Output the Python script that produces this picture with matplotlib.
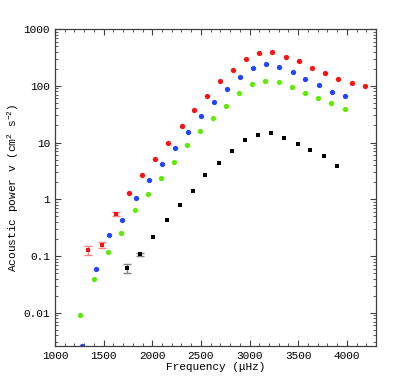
import matplotlib
matplotlib.use('Agg')
import matplotlib.pyplot as plt
from matplotlib.ticker import MultipleLocator, LogLocator, FixedLocator, FixedFormatter

plt.rcParams['font.family'] = ['Liberation Mono', 'DejaVu Sans']
plt.rcParams['mathtext.default'] = 'regular'

# red series
red_f = [1343, 1483, 1622, 1759, 1895, 2031, 2164, 2301, 2434, 2567, 2699,
         2832, 2968, 3101, 3234, 3370, 3507, 3643, 3779, 3909, 4049, 4185]
red_p = [0.128, 0.156, 0.55, 1.31, 2.64, 5.2, 9.8, 19.6, 37.6, 67, 119,
         193, 293, 374, 390, 327, 275, 204, 166, 134, 114, 99.5]
red_err = [0.022, 0.02, 0.035] + [0] * 19

# blue series
blue_f = [1274, 1417, 1557, 1693, 1830, 1963, 2099, 2232, 2365, 2501, 2634,
          2769, 2902, 3037, 3173, 3306, 3442, 3575, 3712, 3848, 3984]
blue_p = [0.00255, 0.059, 0.231, 0.431, 1.07, 2.22, 4.25, 8.1, 15.1, 29, 52.7,
          88, 141, 204, 240, 218, 176, 130, 102, 78, 66]

# green series
green_f = [1261, 1404, 1544, 1683, 1820, 1954, 2089, 2225, 2358, 2491, 2624,
           2759, 2894, 3030, 3163, 3299, 3436, 3572, 3705, 3840, 3978]
green_p = [0.00933, 0.040, 0.119, 0.251, 0.656, 1.22, 2.34, 4.55, 8.9, 15.8, 27.5,
           44.8, 74.3, 106, 119, 117, 95.7, 75, 62, 50.5, 39.2]

# black series
black_f = [1741, 1874, 2010, 2147, 2280, 2414, 2546, 2682, 2815, 2951, 3088,
           3221, 3357, 3493, 3626, 3763, 3899]
black_p = [0.0604, 0.107, 0.219, 0.436, 0.80, 1.38, 2.63, 4.42, 7.2, 10.9, 13.4,
           14.8, 11.9, 9.3, 7.5, 5.9, 3.87]
black_err = [0.011, 0.008] + [0] * 15

fig = plt.figure(figsize=(4.15, 3.9), dpi=100)
ax = fig.add_axes([55 / 415, 44 / 390, 321 / 415, 317 / 390])

ax.errorbar(red_f[:3], red_p[:3], yerr=red_err[:3], fmt='none',
            ecolor='#ff8080', elinewidth=1, capsize=3, capthick=1)
ax.plot(red_f[:3], red_p[:3], 's', color='#ff1010', ms=3.2, mew=0)
ax.plot(red_f[3:], red_p[3:], 'o', color='#ff1010', ms=3.8, mew=0)
ax.plot(blue_f, blue_p, 'o', color='#2244ff', ms=3.8, mew=0)
ax.plot(green_f, green_p, 'o', color='#5cee00', ms=3.8, mew=0)
ax.errorbar(black_f[:2], black_p[:2], yerr=black_err[:2], fmt='none',
            ecolor='#808080', elinewidth=1, capsize=3, capthick=1)
ax.plot(black_f, black_p, 's', color='black', ms=3.2, mew=0)

ax.set_yscale('log')
ax.set_xlim(1000, 4300)
ax.set_ylim(0.0026, 1000)

ax.xaxis.set_major_locator(MultipleLocator(500))
ax.xaxis.set_minor_locator(MultipleLocator(100))
ax.yaxis.set_major_locator(FixedLocator([0.01, 0.1, 1, 10, 100, 1000]))
ax.yaxis.set_major_formatter(FixedFormatter(['0.01', '0.1', '1', '10', '100', '1000']))
ax.yaxis.set_minor_locator(LogLocator(base=10, subs=range(2, 10)))

ax.tick_params(which='both', direction='in', top=True, right=True,
               labelsize=8, colors='#404040', labelcolor='black')
ax.tick_params(which='major', length=4, width=0.8)
ax.tick_params(which='minor', length=2, width=0.6)
for s in ax.spines.values():
    s.set_color('#404040')
    s.set_linewidth(0.9)

ax.set_xlabel('Frequency (\u03bcHz)', fontsize=8, labelpad=1)
ax.set_ylabel('Acoustic power v (cm$^{2}$ s$^{-2}$)', fontsize=8, labelpad=2)

fig.savefig('out.png', dpi=100)
